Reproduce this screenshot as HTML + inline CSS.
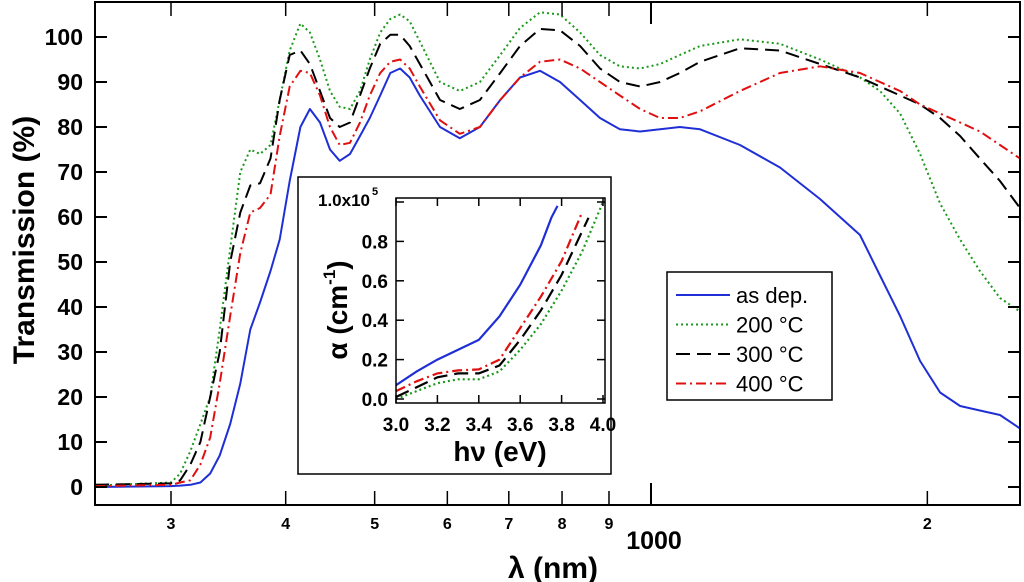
<!DOCTYPE html>
<html><head><meta charset="utf-8"><style>
html,body{margin:0;padding:0;background:#fff;}
svg{display:block;font-family:"Liberation Sans",Arial,sans-serif;font-weight:bold;}
</style></head><body>
<svg id="chart" width="1024" height="582" viewBox="0 0 1024 582" xmlns="http://www.w3.org/2000/svg">
<g id="main"></g>
<g id="inset"></g>
<g id="legend"></g>
</svg>
<script>
const wavelengths=[248,300,307,315,323,331,339,348,357,366,375,385,394,404,415,425,436,447,458,470,482,494,507,520,533,546,560,589,619,651,685,720,757,796,837,880,925,973,1023,1075,1131,1250,1382,1528,1689,1776,1868,1964,2065,2171,2282,2400,2523];
const tAsDep=[0,0.2,0.3,0.5,1,3,7,14,23,35,41,48,55,68,80,84,81,75,72.5,74,78,82,87,92,93,91,87,80,77.5,80,86,91,92.5,90,86,82,79.5,79,79.5,80,79.5,76,71,64,56,47,38,28,21,18,17,16,13];
const t200=[0.3,1,3,8,14,20,35,53,70,75,74,76,86,97,103,101,95,88,84.5,84,88,95,101,104,105,103.5,99,90,88,90,96,102,105.5,105,101,96,93.5,93,94,96,98,99.5,98.5,95,91,88,83,74,63,55,48,42,39];
const t300=[0.5,0.8,1.5,5,10,20,30,50,61,67,67.5,73,86,96,97,94,88,82,80,81,87,93,98.5,100.5,100.5,98,94,86,84,86,92,98,101.8,101.5,98,93,90,89,90,92,94.5,97.5,97,94,91,89,87,85,82,78,73,68,62];
const t400=[0.2,0.5,1,1.5,5,11,23,38,52,61,62,65,78,89,92.5,92,87,80,76,76.5,81,87,92,94.5,95,93,89,81.5,78.5,80,86,91,94.5,95,93,90,87,84,82,82,83.5,88,92,93.5,92,90,88,85,83,81,79,76,73];
const yTicks=[0,10,20,30,40,50,60,70,80,90,100];
const xMinorTicks=[300,400,500,600,700,800,900,2000];
const xMinorLabels=["3","4","5","6","7","8","9","2"];
const insetEvBlue=[3.0,3.1,3.2,3.3,3.4,3.5,3.6,3.7,3.75,3.78];
const insetAlphaBlue=[0.07,0.14,0.2,0.25,0.3,0.42,0.58,0.78,0.92,0.98];
const insetEvRed=[3.0,3.1,3.2,3.3,3.4,3.5,3.6,3.7,3.8,3.9];
const insetAlphaRed=[0.04,0.09,0.13,0.145,0.15,0.2,0.36,0.52,0.7,0.95];
const insetEvBlack=[3.0,3.1,3.2,3.3,3.4,3.5,3.6,3.7,3.8,3.93];
const insetAlphaBlack=[0.01,0.06,0.11,0.13,0.13,0.17,0.3,0.45,0.63,0.92];
const insetEvGreen=[3.0,3.1,3.2,3.3,3.4,3.5,3.6,3.7,3.8,3.9,4.0];
const insetAlphaGreen=[0.0,0.04,0.08,0.1,0.1,0.14,0.25,0.38,0.55,0.75,1.0];
const insetXTicks=[3.0,3.2,3.4,3.6,3.8,4.0];
const insetYTicks=[0.0,0.2,0.4,0.6,0.8];
const legendLabels=["as dep.","200 °C","300 °C","400 °C"];

const NS="http://www.w3.org/2000/svg";
function mk(parent,tag,attrs,text){const e=document.createElementNS(NS,tag);for(const k in attrs)e.setAttribute(k,attrs[k]);if(text!==undefined)e.textContent=text;parent.appendChild(e);return e;}
const L=95,R=1020,T=2,B=505;
const xS=v=>651+918*Math.log10(v/1000);
const yS=v=>487-4.5*v;
const main=document.getElementById('main');
const styles=[{c:"#1f2fd6",d:"",w:2},{c:"#1a9a1a",d:"2,3",w:2},{c:"#000",d:"14,7",w:2},{c:"#e01010",d:"10,4,2,4",w:2}];
const series=[tAsDep,t200,t300,t400];
const sNames=["series-as-dep","series-200c","series-300c","series-400c"];
const defs=mk(main,'defs',{});
const cp=mk(defs,'clipPath',{id:'mc'});mk(cp,'rect',{x:L,y:T,width:R-L,height:B-T});
series.forEach((s,i)=>{
  const d=s.map((v,j)=>(j?'L':'M')+xS(wavelengths[j]).toFixed(1)+','+yS(v).toFixed(1)).join('');
  const p=mk(main,'path',{d:d,fill:'none',stroke:styles[i].c,'stroke-width':styles[i].w,'stroke-dasharray':styles[i].d,'clip-path':'url(#mc)','stroke-linejoin':'round'});
  
  
});
const frame=mk(main,'rect',{x:L,y:T,width:R-L,height:B-T,fill:'none',stroke:'#000','stroke-width':2});


yTicks.forEach(v=>{
  const y=yS(v);
  mk(main,'line',{x1:L,x2:L+12,y1:y,y2:y,stroke:'#000','stroke-width':2});
  mk(main,'line',{x1:R-12,x2:R,y1:y,y2:y,stroke:'#000','stroke-width':2});
  const t=mk(main,'text',{x:83,y:y+8,'text-anchor':'end','font-size':23},String(v));
  
  
});
xMinorTicks.forEach((v,i)=>{
  const x=xS(v);
  mk(main,'line',{x1:x,x2:x,y1:B,y2:B-14,stroke:'#000','stroke-width':1.5});
  mk(main,'line',{x1:x,x2:x,y1:T,y2:T+14,stroke:'#000','stroke-width':1.5});
  const t=mk(main,'text',{x:x,y:529,'text-anchor':'middle','font-size':16},xMinorLabels[i]);
  
  
});
{const x=xS(1000);
mk(main,'line',{x1:x,x2:x,y1:B,y2:B-22,stroke:'#000','stroke-width':2});
mk(main,'line',{x1:x,x2:x,y1:T,y2:T+22,stroke:'#000','stroke-width':2});
const t=mk(main,'text',{x:x+3,y:549,'text-anchor':'middle','font-size':25},"1000");

}
const xt=mk(main,'text',{x:553,y:578,'text-anchor':'middle','font-size':30},"λ (nm)");


const yt=mk(main,'text',{x:0,y:0,'text-anchor':'middle','font-size':30,transform:'translate(34,240) rotate(-90)'},"Transmission (%)");



// inset
const ins=document.getElementById('inset');
const ib=mk(ins,'rect',{x:298,y:177,width:313,height:297,fill:'#fff',stroke:'#000','stroke-width':1.5});


const iL=396,iR=605,iT=198,iB=403;
const ixS=v=>396+207*(v-3.0);
const iyS=v=>399-197*v;
const ic=mk(defs,'clipPath',{id:'ic'});mk(ic,'rect',{x:iL,y:iT,width:iR-iL,height:iB-iT});
const insX=[insetEvBlue,insetEvGreen,insetEvBlack,insetEvRed];
const insY=[insetAlphaBlue,insetAlphaGreen,insetAlphaBlack,insetAlphaRed];
const insN=["inset-as-dep","inset-200c","inset-300c","inset-400c"];
insY.forEach((s,i)=>{
  const d=s.map((v,j)=>(j?'L':'M')+ixS(insX[i][j]).toFixed(1)+','+iyS(v).toFixed(1)).join('');
  const p=mk(ins,'path',{d:d,fill:'none',stroke:styles[i].c,'stroke-width':2.2,'stroke-dasharray':styles[i].d,'clip-path':'url(#ic)'});
  
  
});
mk(ins,'rect',{x:iL,y:iT,width:iR-iL,height:iB-iT,fill:'none',stroke:'#000','stroke-width':1.5});
insetXTicks.forEach(v=>{
  const x=ixS(v);
  mk(ins,'line',{x1:x,x2:x,y1:iB,y2:iB-8,stroke:'#000','stroke-width':1.5});
  mk(ins,'line',{x1:x,x2:x,y1:iT,y2:iT+8,stroke:'#000','stroke-width':1.5});
  const t=mk(ins,'text',{x:x,y:431,'text-anchor':'middle','font-size':19},v.toFixed(1));
  
  
});
insetYTicks.concat([1.0]).forEach(v=>{
  const y=iyS(v);
  mk(ins,'line',{x1:iL,x2:iL+8,y1:y,y2:y,stroke:'#000','stroke-width':1.5});
  mk(ins,'line',{x1:iR-8,x2:iR,y1:y,y2:y,stroke:'#000','stroke-width':1.5});
});
insetYTicks.forEach(v=>{
  const t=mk(ins,'text',{x:388,y:iyS(v)+7,'text-anchor':'end','font-size':19},v.toFixed(1));
  
  
});
const t1=mk(ins,'text',{x:318,y:206,'font-size':17},"1.0x10");


mk(ins,'text',{x:372,y:195,'font-size':11},"5");
const ixt=mk(ins,'text',{x:500,y:461,'text-anchor':'middle','font-size':28},"hν (eV)");


const iyt=mk(ins,'text',{x:0,y:0,'text-anchor':'middle','font-size':28,transform:'translate(347,310) rotate(-90)'});


mk(iyt,'tspan',{},"α (cm");
mk(iyt,'tspan',{'font-size':17,dy:-12},"-1");
mk(iyt,'tspan',{dy:12},")");

// legend
const lg=document.getElementById('legend');
mk(lg,'rect',{x:667,y:272,width:165,height:128,fill:'#fff',stroke:'#000','stroke-width':1.5});
legendLabels.forEach((lab,i)=>{
  const y=295+29.5*i;
  const g=mk(lg,'g',{});
  
  
  mk(g,'line',{x1:676,x2:730,y1:y,y2:y,stroke:styles[i].c,'stroke-width':2,'stroke-dasharray':styles[i].d});
  mk(g,'text',{x:736,y:y+8,'font-size':22,'font-weight':'normal'},lab);
});
</script>
</body></html>
